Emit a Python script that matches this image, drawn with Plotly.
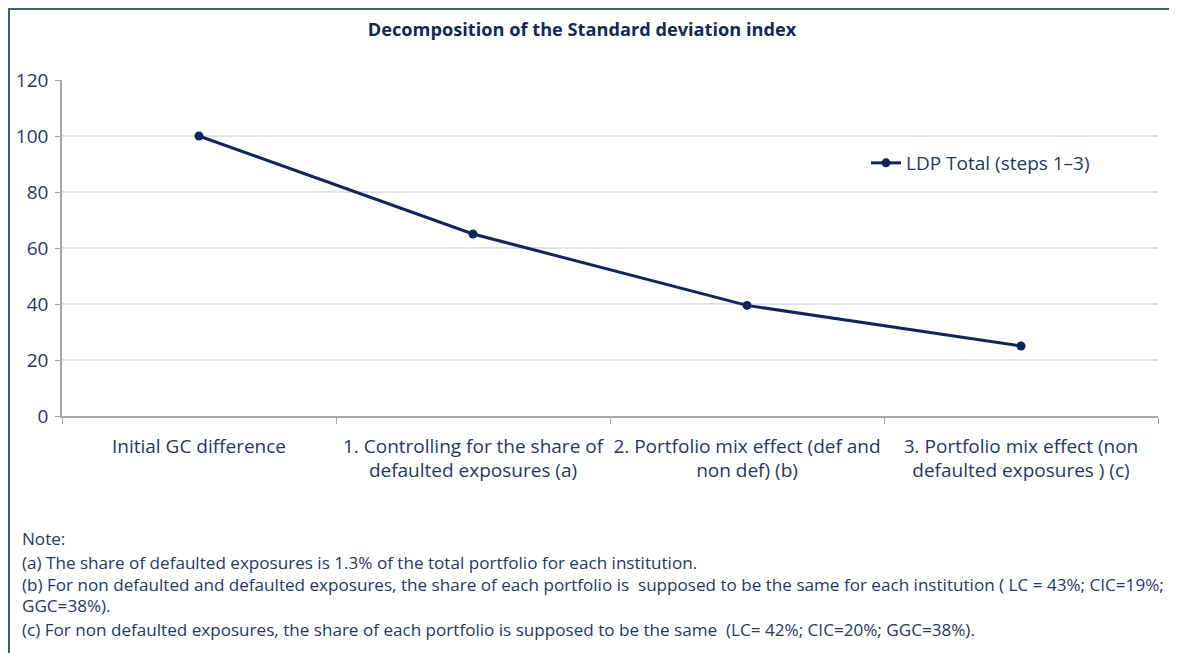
import plotly.graph_objects as go

categories = [
    "Initial GC difference",
    "1. Controlling for the share of<br>defaulted exposures (a)",
    "2. Portfolio mix effect (def and<br>non def) (b)",
    "3. Portfolio mix effect (non<br>defaulted exposures ) (c)",
]
values = [100, 65, 39.5, 25]
series_name = "LDP Total (steps 1\u20133)"
title_text = "Decomposition of the Standard deviation index"
y_ticks = [0, 20, 40, 60, 80, 100, 120]
notes = [
    "Note:",
    "(a) The share of defaulted exposures is 1.3% of the total portfolio for each institution.",
    "(b) For non defaulted and defaulted exposures, the share of each portfolio is  supposed to be the same for each institution ( LC = 43%; CIC=19%;",
    "GGC=38%).",
    "(c) For non defaulted exposures, the share of each portfolio is supposed to be the same  (LC= 42%; CIC=20%; GGC=38%).",
]

# page has an 8px body margin; reference pixel coords are shifted by OFF
OFF = 8
W, H = 1177 - OFF, 653 - OFF
L, R, T, B = 62 - OFF, 1158 - OFF, 80 - OFF, 416 - OFF
PW, PH = R - L, B - T

def px(x):
    return (x - OFF - L) / PW

def py(y):
    return (B - (y - OFF)) / PH

FONT = "Open Sans, Lato, sans-serif"
NAVY = "#1f3864"
LINE = "#13245a"

fig = go.Figure()
fig.add_trace(go.Scatter(
    x=categories, y=values, mode="lines+markers", name=series_name,
    line=dict(color=LINE, width=3),
    marker=dict(symbol="circle", size=9, color=LINE),
))

fig.update_layout(
    width=W, height=H,
    margin=dict(l=L, r=W - R, t=T, b=H - B, autoexpand=False),
    paper_bgcolor="white", plot_bgcolor="white",
    font=dict(family=FONT, size=19, color=NAVY),
    title=dict(text="<b>" + title_text + "</b>", x=(582 - OFF) / W, xanchor="center",
               y=1 - (30 - OFF) / H, yanchor="middle", xref="container", yref="container",
               font=dict(family=FONT, size=18.2, color="#132858")),
    showlegend=True,
    legend=dict(x=px(866), y=py(163), xanchor="left", yanchor="middle",
                bgcolor="rgba(0,0,0,0)", font=dict(size=19, color=NAVY)),
    xaxis=dict(range=[-0.5, 3.5], showline=True, linecolor="#a6a6a6", linewidth=1.5,
               ticks="outside", tickson="boundaries", ticklen=6, tickcolor="#a6a6a6",
               ticklabelstandoff=12, tickangle=0, automargin=False,
               showgrid=False, tickfont=dict(size=19, color=NAVY), fixedrange=True),
    yaxis=dict(range=[0, 120], tickvals=y_ticks, showline=True, linecolor="#a6a6a6",
               linewidth=1.5, ticks="outside", ticklen=5, tickcolor="#a6a6a6",
               ticklabelstandoff=3, automargin=False,
               showgrid=True, gridcolor="#dadfe9", gridwidth=1.5, zeroline=False,
               tickfont=dict(size=19, color=NAVY), fixedrange=True),
)

# outer chart border (left and top edges visible in the reference)
fig.add_shape(type="rect", xref="paper", yref="paper",
              x0=(1 - L) / PW, x1=px(1200), y0=py(700), y1=(B - 1) / PH,
              line=dict(color="#3e5f80", width=2), layer="below")

note_y = [538, 562, 584, 605, 629]
for txt, yy in zip(notes, note_y):
    fig.add_annotation(text=txt, xref="paper", yref="paper", x=px(20), y=py(yy),
                       xanchor="left", yanchor="middle", showarrow=False,
                       font=dict(family=FONT, size=17.1, color=NAVY))

fig.write_html("out.html")
